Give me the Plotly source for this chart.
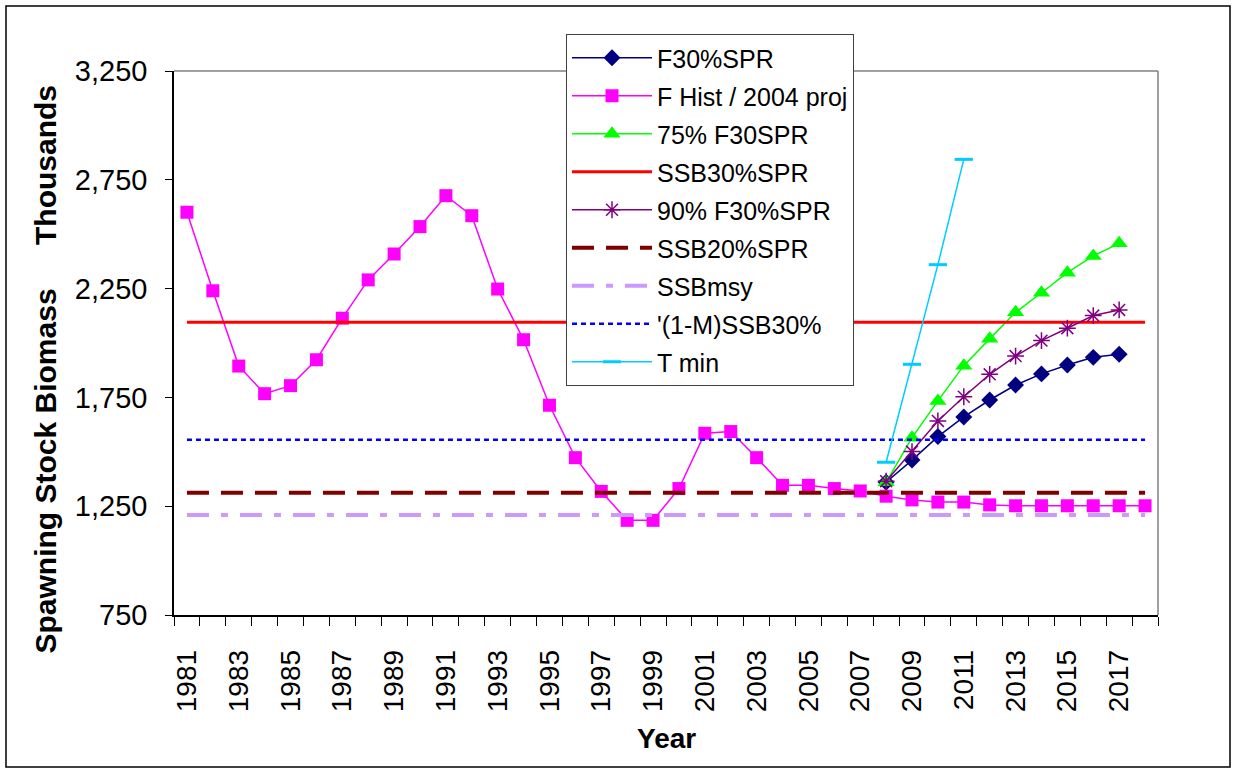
import plotly.graph_objects as go

# ---- data (thousands of tonnes) ----
years = list(range(1981, 2019))
proj_years = list(range(2008, 2018))
tmin_years = [2008, 2009, 2010, 2011]

f_hist = [2601, 2240, 1894, 1767, 1804, 1923, 2114, 2290, 2409, 2535,
          2677, 2585, 2248, 2015, 1714, 1473, 1318, 1185, 1185, 1331,
          1585, 1593, 1473, 1346, 1346, 1331, 1320, 1296, 1279, 1269,
          1269, 1256, 1252, 1252, 1252, 1252, 1252, 1252]
f30_spr = [1360, 1462, 1570, 1660, 1738, 1807, 1858, 1899, 1934, 1948]
f30_75 = [1360, 1565, 1734, 1896, 2019, 2141, 2231, 2323, 2400, 2458]
f30_90 = [1365, 1501, 1642, 1753, 1856, 1940, 2011, 2068, 2126, 2152]
t_min = [1452, 1902, 2360, 2844]

ssb30 = 2095
ssb20 = 1312
ssb_msy = 1210
ssb30_1m = 1555

y_ticks = [750, 1250, 1750, 2250, 2750, 3250]
x_tick_years = list(range(1981, 2018, 2))

FONT = "Liberation Sans, Arial, sans-serif"

W, H = 1233, 773
L, R, T, B = 174, 75, 71, 158
PW, PH = W - L - R, H - T - B


def px_x(px):
    return (px - L) / PW


def px_y(py):
    return (H - B - py) / PH


fig = go.Figure()


def add(name, x, y, color, width=1.5, dash="solid", symbol=None, size=None,
        mline=None):
    mode = "lines+markers" if symbol else "lines"
    marker = None
    if symbol:
        marker = dict(symbol=symbol, size=size, color=color,
                      line=dict(color=color, width=mline if mline else 0))
    fig.add_trace(go.Scatter(
        x=x, y=y, name=name, mode=mode, legendgroup=name,
        line=dict(color=color, width=width, dash=dash),
        marker=marker,
    ))


add("F30%SPR", proj_years, f30_spr, "#000080", symbol="diamond", size=13)
add("F Hist / 2004 proj", years, f_hist, "#FF00FF", symbol="square", size=13)
add("75% F30SPR", proj_years, f30_75, "#00FF00", symbol="triangle-up", size=15)
add("SSB30%SPR", years, [ssb30] * len(years), "#FF0000", width=3)
add("90% F30%SPR", proj_years, f30_90, "#800080", symbol="asterisk-open",
    size=14, mline=1.5)
add("SSB20%SPR", years, [ssb20] * len(years), "#800000", width=4,
    dash="22px,12px")
add("SSBmsy", years, [ssb_msy] * len(years), "#CC99FF", width=4,
    dash="22px,12px,7px,12px")
add("'(1-M)SSB30%", years, [ssb30_1m] * len(years), "#0000FF", width=2.5,
    dash="5px,4px")
add("T min", tmin_years, t_min, "#00CCFF", symbol="line-ew-open", size=13,
    mline=3)

shapes = [
    # plot-area frame (top and right)
    dict(type="line", xref="paper", yref="paper", x0=0, x1=1, y0=1, y1=1,
         line=dict(color="#808080", width=1.5)),
    dict(type="line", xref="paper", yref="paper", x0=1, x1=1, y0=0, y1=1,
         line=dict(color="#808080", width=1.5)),
    # chart border
    dict(type="rect", xref="paper", yref="paper",
         x0=px_x(6), x1=px_x(1230), y0=px_y(767), y1=px_y(6),
         line=dict(color="black", width=1.5)),
]

annotations = [
    dict(text="<b>Year</b>", xref="paper", yref="paper", x=0.5, y=px_y(738),
         xanchor="center", yanchor="middle", showarrow=False,
         font=dict(family=FONT, size=28, color="black")),
    dict(text="<b>Spawning Stock Biomass</b>", xref="paper", yref="paper",
         x=px_x(45), y=px_y(656), xanchor="center", yanchor="bottom",
         textangle=-90, showarrow=False,
         font=dict(family=FONT, size=30, color="black")),
    dict(text="<b>Thousands</b>", xref="paper", yref="paper",
         x=px_x(45), y=px_y(165), xanchor="center", yanchor="middle",
         textangle=-90, showarrow=False,
         font=dict(family=FONT, size=30, color="black")),
]

fig.update_layout(
    width=W, height=H,
    margin=dict(l=L, r=R, t=T, b=B),
    paper_bgcolor="white", plot_bgcolor="white",
    font=dict(family=FONT, size=28, color="black"),
    shapes=shapes, annotations=annotations,
    legend=dict(
        x=px_x(566), y=px_y(34), xanchor="left", yanchor="top",
        bgcolor="white", bordercolor="#404040", borderwidth=1,
        font=dict(family=FONT, size=25, color="black"),
        itemwidth=80, tracegroupgap=2.5, traceorder="grouped",
    ),
    xaxis=dict(
        range=[1980.5, 2018.5], tickmode="array", tickvals=x_tick_years,
        ticktext=[str(y) for y in x_tick_years], tickangle=-90,
        ticks="", ticklabelstandoff=22, showgrid=False, zeroline=False,
        showline=True, linecolor="black", linewidth=1.5,
        tickfont=dict(family=FONT, size=28, color="black"),
        minor=dict(ticks="outside", ticklen=9, tickcolor="black", tickwidth=1,
                   tick0=1980.5, dtick=1, showgrid=False),
    ),
    yaxis=dict(
        range=[750, 3250], tickmode="array", tickvals=y_ticks,
        tickformat=",d", ticks="outside", ticklen=7, tickcolor="black",
        ticklabelstandoff=12, showgrid=False, zeroline=False,
        showline=True, linecolor="black", linewidth=1.5,
        tickfont=dict(family=FONT, size=29, color="black"),
    ),
)

fig.write_html("out.html")
